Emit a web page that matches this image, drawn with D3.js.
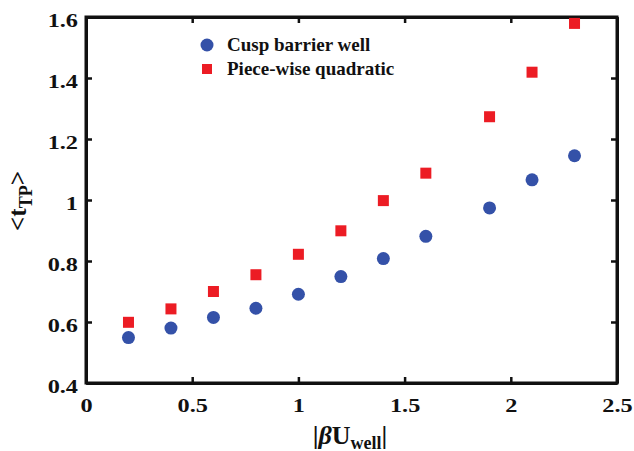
<!DOCTYPE html>
<html>
<head>
<meta charset="utf-8">
<script src="https://cdn.jsdelivr.net/npm/d3@7"></script>
<style>
  body { margin: 0; background: #fff; }
  text { font-family: "Liberation Serif", "Times New Roman", serif; font-weight: bold; }
</style>
</head>
<body>
<svg id="chart" width="634" height="451"></svg>
<script>
// values
var xValues = [0.2, 0.4, 0.6, 0.8, 1.0, 1.2, 1.4, 1.6, 1.9, 2.1, 2.3];
var cuspValues = [0.549, 0.580, 0.615, 0.645, 0.691, 0.749, 0.808, 0.881, 0.974, 1.066, 1.145];
var quadValues = [0.599, 0.643, 0.700, 0.755, 0.822, 0.899, 0.998, 1.088, 1.273, 1.419, 1.579];
var seriesNames = ["Cusp barrier well", "Piece-wise quadratic"];
var xTicks = [0, 0.5, 1, 1.5, 2, 2.5];
var xTickLabels = ["0", "0.5", "1", "1.5", "2", "2.5"];
var yTicks = [0.4, 0.6, 0.8, 1.0, 1.2, 1.4, 1.6];
var yTickLabels = ["0.4", "0.6", "0.8", "1", "1.2", "1.4", "1.6"];

var blue = "#3451a8", red = "#ec1c24";
var plotL = 86, plotR = 617, plotT = 17, plotB = 383;

var svg = d3.select("#chart");

var x = d3.scaleLinear().domain([0, 2.5]).range([plotL, plotR]);
var y = d3.scaleLinear().domain([0.4, 1.6]).range([plotB, plotT]);

function styleAxis(g){
  g.select(".domain").attr("stroke", "#111").attr("stroke-width", 3);
  g.selectAll(".tick line").attr("stroke", "#111").attr("stroke-width", 2.5);
}

var xAxis = svg.append("g")
  .attr("transform", "translate(0," + plotB + ")")
  .call(d3.axisBottom(x).tickValues(xTicks).tickSize(-6).tickSizeOuter(0)
    .tickFormat(function(d, i){ return xTickLabels[i]; }));
styleAxis(xAxis);
xAxis.selectAll(".tick text")
  .attr("x", 0).attr("y", 0).attr("dy", 0)
  .attr("transform", "translate(0,29) scale(1.35,1)")
  .attr("fill", "#111").style("font-size", "18px");

var yAxis = svg.append("g")
  .attr("transform", "translate(" + plotL + ",0)")
  .call(d3.axisLeft(y).tickValues(yTicks).tickSize(-6).tickSizeOuter(0)
    .tickFormat(function(d, i){ return yTickLabels[i]; }));
styleAxis(yAxis);
yAxis.selectAll(".tick text")
  .attr("x", 0).attr("y", 0).attr("dy", 0)
  .attr("transform", "translate(-8,9) scale(1.35,1)")
  .attr("fill", "#111").style("font-size", "18px");

var topAxis = svg.append("g")
  .attr("transform", "translate(0," + plotT + ")")
  .call(d3.axisTop(x).tickValues(xTicks).tickSize(-6).tickSizeOuter(0).tickFormat(""));
styleAxis(topAxis);

var rightAxis = svg.append("g")
  .attr("transform", "translate(" + plotR + ",0)")
  .call(d3.axisRight(y).tickValues(yTicks).tickSize(-6).tickSizeOuter(0).tickFormat(""));
styleAxis(rightAxis);

// frame corners
svg.append("rect")
  .attr("x", plotL).attr("y", plotT)
  .attr("width", plotR - plotL).attr("height", plotB - plotT)
  .attr("fill", "none").attr("stroke", "#111").attr("stroke-width", 3);

// markers
svg.append("g").selectAll("rect").data(xValues).enter().append("rect")
  .attr("x", function(d){ return x(d) - 5.5; })
  .attr("y", function(d, i){ return y(quadValues[i]) - 5.5; })
  .attr("width", 11).attr("height", 11)
  .attr("fill", red);

svg.append("g").selectAll("circle").data(xValues).enter().append("circle")
  .attr("cx", function(d){ return x(d); })
  .attr("cy", function(d, i){ return y(cuspValues[i]); })
  .attr("r", 6.5)
  .attr("fill", blue);

// legend
var legend = svg.append("g");
legend.append("circle").attr("cx", 207).attr("cy", 45).attr("r", 6.5).attr("fill", blue);
legend.append("rect").attr("x", 202).attr("y", 64).attr("width", 10).attr("height", 10).attr("fill", red);
legend.selectAll("text").data(seriesNames).enter().append("text")
  .attr("x", 227)
  .attr("y", function(d, i){ return 51 + i * 24; })
  .style("font-size", "19px")
  .attr("fill", "#111")
  .text(function(d){ return d; });

// axis titles
var xt = svg.append("text")
  .attr("x", 350)
  .attr("y", 444)
  .attr("text-anchor", "middle")
  .attr("fill", "#111")
  .style("font-size", "26px");
xt.append("tspan").text("|");
xt.append("tspan").style("font-style", "italic").text("\u03B2");
xt.append("tspan").text("U");
xt.append("tspan").attr("dy", 5).style("font-size", "18px").text("well");
xt.append("tspan").attr("dy", -5).text("|");

var yt = svg.append("text")
  .attr("transform", "translate(26,201) rotate(-90)")
  .attr("text-anchor", "middle")
  .attr("fill", "#111")
  .style("font-size", "25px");
yt.append("tspan").text("<t");
yt.append("tspan").attr("dy", 6).style("font-size", "18px").text("TP");
yt.append("tspan").attr("dy", -6).text(">");
</script>
</body>
</html>
